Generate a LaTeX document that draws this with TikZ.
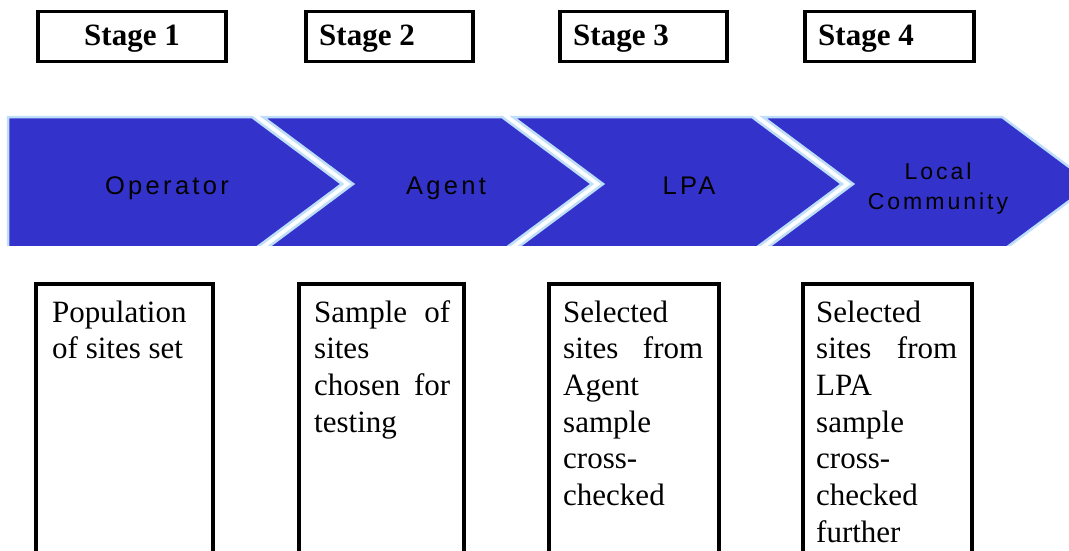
\documentclass[tikz,border=0pt]{standalone}
\usepackage{fontspec}
\setmainfont{Liberation Serif}
\newfontfamily\chevfont[LetterSpace=13]{Liberation Sans}
\definecolor{chevblue}{RGB}{51,51,204}
\definecolor{chevedge}{RGB}{190,222,250}

\begin{document}
\begin{tikzpicture}[x=1pt,y=-1pt,
  chevron/.style={fill=chevblue, draw=chevedge, line width=2.5pt, line join=miter},
  frame/.style={draw=black, line width=3.5pt},
  stagebox/.style={frame, minimum height=50pt, inner sep=0pt, anchor=north west},
  stagetext/.style={anchor=base west, inner sep=0pt, font=\bfseries\fontsize{31}{36}\selectfont},
  chevtext/.style={anchor=base, inner sep=0pt, text=black},
  bodytext/.style={anchor=base west, inner sep=0pt, font=\fontsize{31}{36.7}\selectfont}
]
\useasboundingbox (0,0) rectangle (1069,551);
\clip (0,0) rectangle (1069,551);

% stage headings
\node[stagebox, minimum width=188pt] (st1) at (36,10) {};
\node[stagebox, minimum width=167pt] (st2) at (304,10) {};
\node[stagebox, minimum width=167pt] (st3) at (558,10) {};
\node[stagebox, minimum width=169pt] (st4) at (803,10) {};
\node[stagetext] (st1lbl) at (84,46) {Stage 1};
\node[stagetext] (st2lbl) at (319,46) {Stage 2};
\node[stagetext] (st3lbl) at (573,46) {Stage 3};
\node[stagetext] (st4lbl) at (818,46) {Stage 4};

% chevron process band
\begin{scope}
  \clip (0,0) rectangle (1069,245);
  \path[chevron] (8,117) -- (252,117) -- (342,184) -- (252,251) -- (8,251) -- cycle;
  \foreach \i in {1,2,3}{
    \pgfmathsetmacro{\xr}{252+250*\i}
    \pgfmathsetmacro{\xl}{\xr-239}
    \path[chevron] (\xl,117) -- (\xr,117) -- (\xr+90,184) -- (\xr,251)
      -- (\xl,251) -- (\xl+90,184) -- cycle;
  }
\end{scope}
\node[chevtext, font=\chevfont\fontsize{25.5}{28}\selectfont] (operator) at (167,194) {Operator};
\node[chevtext, font=\chevfont\fontsize{25.5}{28}\selectfont] (agent) at (446,194) {Agent};
\node[chevtext, font=\chevfont\fontsize{25.5}{28}\selectfont] (lpa) at (689,194) {LPA};
\node[chevtext, font=\chevfont\fontsize{23}{28}\selectfont] (local) at (938,179) {Local};
\node[chevtext, font=\chevfont\fontsize{23}{28}\selectfont] (community) at (938,209) {Community};

% description columns (open at the bottom)
\draw[frame] (36,570) -- (36,284) -- (213,284) -- (213,570);
\draw[frame] (299,570) -- (299,284) -- (464,284) -- (464,570);
\draw[frame] (549,570) -- (549,284) -- (719,284) -- (719,570);
\draw[frame] (803,570) -- (803,284) -- (972,284) -- (972,570);

\node[bodytext] (d1) at (52,322) {\parbox[t]{150pt}{Population\\of sites set}};
\node[bodytext] (d2) at (314,322) {\parbox[t]{136pt}{\makebox[136pt][s]{Sample of}\\sites\\\makebox[136pt][s]{chosen for}\\testing}};
\node[bodytext] (d3) at (563,322) {\parbox[t]{140pt}{Selected\\\makebox[140pt][s]{sites from}\\Agent\\sample\\cross-\\checked}};
\node[bodytext] (d4) at (816,322) {\parbox[t]{141pt}{Selected\\\makebox[141pt][s]{sites from}\\LPA\\sample\\cross-\\checked\\further}};
\end{tikzpicture}
\end{document}
